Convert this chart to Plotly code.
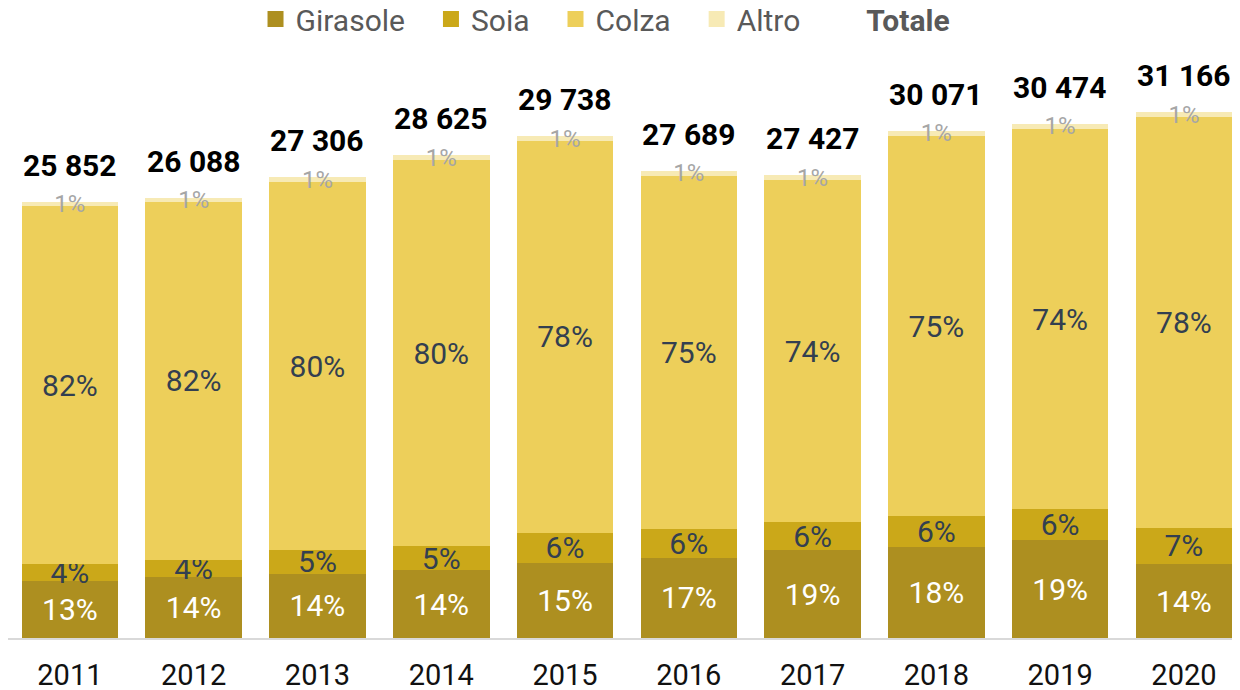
import plotly.graph_objects as go

years = ["2011", "2012", "2013", "2014", "2015", "2016", "2017", "2018", "2019", "2020"]
totals = [25852, 26088, 27306, 28625, 29738, 27689, 27427, 30071, 30474, 31166]
girasole_pct = [13, 14, 14, 14, 15, 17, 19, 18, 19, 14]
soia_pct = [4, 4, 5, 5, 6, 6, 6, 6, 6, 7]
colza_pct = [82, 82, 80, 80, 78, 75, 74, 75, 74, 78]
altro_pct = [1, 1, 1, 1, 1, 1, 1, 1, 1, 1]

series = [
    ("Girasole", girasole_pct, "#AD8F20", "#FFFFFF", 30),
    ("Soia", soia_pct, "#CBA819", "#333F50", 30),
    ("Colza", colza_pct, "#EDCF5A", "#333F50", 30),
    ("Altro", altro_pct, "#F7EAB5", "#A6A6A6", 24),
]

sums = [g + s + c + a for g, s, c, a in zip(girasole_pct, soia_pct, colza_pct, altro_pct)]
xi = list(range(len(years)))

fig = go.Figure()
for name, pct, color, tcolor, tsize in series:
    vals = [t * p / sm for t, p, sm in zip(totals, pct, sums)]
    fig.add_trace(go.Bar(
        x=xi, y=vals, name=name, showlegend=False,
        marker=dict(color=color, line=dict(width=0)),
        text=[f"{p}%" for p in pct],
        textposition="inside", insidetextanchor="middle",
        constraintext="none", textangle=0,
        textfont=dict(family="Roboto", size=tsize, color=tcolor),
        width=0.78, hoverinfo="skip",
    ))

# legend proxies
NB = "\u00a0\u00a0\u2009"
for name, pct, color, tcolor, tsize in series:
    fig.add_trace(go.Scatter(
        x=[None], y=[None], mode="markers", name=name + NB,
        marker=dict(symbol="square", size=16, color=color),
    ))
fig.add_trace(go.Scatter(
    x=[None], y=[None], mode="markers", name="<b>Totale</b>",
    marker=dict(symbol="square", size=16, color="rgba(0,0,0,0)"),
))

for i, t in zip(xi, totals):
    fig.add_annotation(
        x=i, y=t, xref="x", yref="y", text=f"<b>{t:,}</b>".replace(",", " "),
        showarrow=False, yanchor="bottom", yshift=17,
        font=dict(family="Roboto", size=30, color="#000000"),
    )

fig.update_layout(
    barmode="stack",
    width=1232, height=682,
    margin=dict(l=0, r=0, t=0, b=52, autoexpand=False),
    paper_bgcolor="white", plot_bgcolor="white",
    font=dict(family="Roboto", color="#595959"),
    legend=dict(
        orientation="h", xref="container", yref="container",
        x=0.485, xanchor="center", y=0.984, yanchor="middle",
        traceorder="normal", bgcolor="rgba(0,0,0,0)",
        font=dict(family="Roboto", size=30, color="#595959"),
        itemclick=False, itemdoubleclick=False,
    ),
    xaxis=dict(
        type="linear", range=[-0.5, 9.453], automargin=False,
        tickmode="array", tickvals=xi, ticktext=years,
        showline=True, linecolor="#D9D9D9", linewidth=2,
        showgrid=False, zeroline=False, ticks="", ticklabelstandoff=10,
        tickfont=dict(family="Roboto", size=29, color="#111111"),
        fixedrange=True,
    ),
    yaxis=dict(
        range=[0, 37344], visible=False, showgrid=False, fixedrange=True,
        automargin=False,
    ),
)

fig.write_html("out.html")
